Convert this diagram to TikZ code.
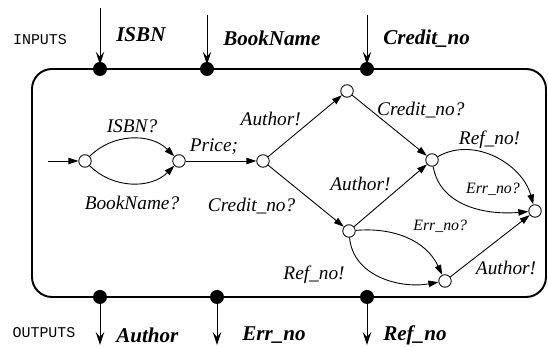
\documentclass[tikz,border=0pt]{standalone}
\usepackage{fontspec}
\setmainfont{Liberation Serif}
\setmonofont{Liberation Mono}
\usetikzlibrary{positioning}
\usetikzlibrary{arrows.meta}

\begin{document}
\begin{tikzpicture}[x=0.02cm, y=0.02cm,
  main/.style = {draw, circle, minimum size=2.5mm, inner sep=0pt, line width=0.5pt},
  port/.style = {fill, circle, minimum size=2.8mm, inner sep=0pt},
  lab/.style = {font=\fontsize{11}{13}\selectfont\itshape},
  smalllab/.style = {font=\fontsize{9}{11}\selectfont\itshape},
  sig/.style = {font=\fontsize{12}{14}\selectfont\bfseries\itshape},
  io/.style = {font=\fontsize{8.5}{10}\selectfont\ttfamily},
  transarrow/.style = {-{Triangle[length=2mm,width=1.3mm]}, line width=0.5pt},
  wire/.style = {-{Stealth[length=2.6mm,width=1.7mm,inset=1mm]}, line width=0.5pt, shorten >=-0.6mm}]
\useasboundingbox (0,0) rectangle (548,347);
\draw[line width=1.1pt, rounded corners=4mm] (32,50) rectangle (546,278);

\node[io] (in) at (40,307) {INPUTS};
\node[io] (out) at (44,14) {OUTPUTS};

\node[port] (isbn) at (100,278) {};
\node[port] (bookname) at (207,278) {};
\node[port] (credit) at (367,278) {};
\coordinate (isbnTop) at (100,339);
\coordinate (booknameTop) at (207,332);
\coordinate (creditTop) at (367,332);
\draw[wire] (isbnTop) -- (isbn) node[midway, right=2mm, sig] {ISBN};
\draw[wire] (booknameTop) -- (bookname) node[midway, right=2mm, sig] {BookName};
\draw[wire] (creditTop) -- (credit) node[midway, right=2mm, sig] {Credit\_no};

\node[port] (author) at (100,50) {};
\node[port] (errno) at (217,50) {};
\node[port] (refno) at (367,50) {};
\coordinate (authorEnd) at (100,2);
\coordinate (errnoEnd) at (217,2);
\coordinate (refnoEnd) at (367,2);
\draw[wire, shorten >=0pt] (author) -- (authorEnd) node[pos=0.75, right=2mm, sig] {Author};
\draw[wire, shorten >=0pt] (errno) -- (errnoEnd) node[pos=0.75, right=3.8mm, sig] {Err\_no};
\draw[wire, shorten >=0pt] (refno) -- (refnoEnd) node[pos=0.75, right=2mm, sig] {Ref\_no};

\node[main] (0) at (85,186) {};
\node[main] (1) at (179,186) {};
\node[main] (2) at (263,186) {};
\node[main] (3) at (347,256) {};
\node[main] (4) at (432,187) {};
\node[main] (5) at (349,116) {};
\node[main] (6) at (535,136) {};
\node[main] (7) at (445,66) {};
\coordinate (start) at (48,186);

\path (start) edge [transarrow] (0);
\path (0) edge [transarrow, bend left=45] node [above, lab] {ISBN?} (1);
\path (0) edge [transarrow, bend right=45] node [below=1.3mm, lab] {BookName?} (1);
\path (1) edge [transarrow] node [above, pos=0.4, lab] {Price;} (2);
\path (2) edge [transarrow] node [left=1.2mm, pos=0.61, lab] {Author!} (3);
\path (2) edge [transarrow] node [left=3.3mm, pos=0.66, lab] {Credit\_no?} (5);
\path (3) edge [transarrow] node [right, pos=0.25, lab] {Credit\_no?} (4);
\path (5) edge [transarrow] node [left=1.5mm, pos=0.69, lab] {Author!} (4);
\path (4) edge [transarrow, out=30, in=105] node [above, pos=0.45, lab] {Ref\_no!} (6);
\path (4) edge [transarrow, out=-80, in=185] node [above right, pos=0.42, smalllab] {Err\_no?} (6);
\path (5) edge [transarrow, out=5, in=115] node [above right, smalllab] {Err\_no?} (7);
\path (5) edge [transarrow, out=-85, in=190] node [left=5mm, pos=0.45, lab] {Ref\_no!} (7);
\path (7) edge [transarrow] node [right=1.5mm, pos=0.15, lab] {Author!} (6);
\end{tikzpicture}
\end{document}
